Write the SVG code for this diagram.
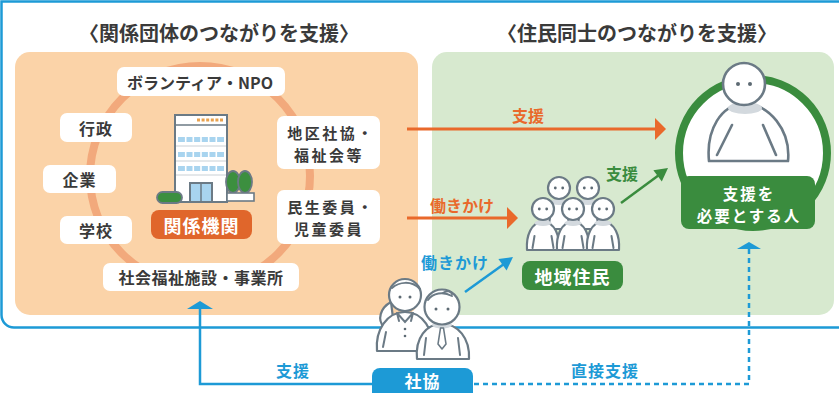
<svg xmlns="http://www.w3.org/2000/svg" width="839" height="393" viewBox="0 0 839 393">
  <style>
    text { font-family: "Noto Sans CJK JP", "Noto Sans", sans-serif; text-anchor: middle; dominant-baseline: central; }
    .title { font-size: 20px; font-weight: 700; fill: #3a3a3a; }
    .lbl { font-size: 16px; font-weight: 700; fill: #3a3a3a; letter-spacing: 1px; }
    .lbl2 { font-size: 15px; font-weight: 700; fill: #3a3a3a; letter-spacing: 2.5px; }
    .wbox { fill: #ffffff; }
    .inv { font-size: 17px; font-weight: 700; fill: #ffffff; letter-spacing: 1px; }
    .inv2 { font-size: 15px; font-weight: 700; fill: #ffffff; letter-spacing: 2px; }
    .or { fill: #e9692b; font-size: 16px; font-weight: 700; }
    .gr { fill: #3a8c3e; font-size: 16px; font-weight: 700; }
    .bl { fill: #1d9ad6; font-size: 16px; font-weight: 700; letter-spacing: 1px; }
    .fig { fill: #ffffff; stroke: #6b7a85; stroke-width: 2.2; stroke-linejoin: round; stroke-linecap: round; }
    .ln { fill: none; stroke: #6b7a85; stroke-width: 2; stroke-linecap: round; }
    .eye { fill: #5d6a73; }
    .collar { fill: #d3d9de; }
  </style>
  <defs>
    <g id="person">
      <path class="fig" d="M-16,41 C-17,27 -12,13 0,13 C12,13 17,27 16,41 Z"/>
      <ellipse class="collar" cx="0" cy="14" rx="8.5" ry="3"/>
      <path class="ln" d="M-8.5,27 L-10.5,39 M8.5,27 L10.5,39"/>
      <circle class="fig" cx="0" cy="0" r="11"/>
      <circle class="eye" cx="-3.7" cy="0" r="1.4"/>
      <circle class="eye" cx="3.7" cy="0" r="1.4"/>
    </g>
  </defs>

  <rect width="839" height="393" fill="#ffffff"/>

  <!-- outer frame -->
  <path d="M860,327.5 H14 A12.5,12.5 0 0 1 1.5,315 V1.5 H860" fill="none" stroke="#1d9ad6" stroke-width="2.5"/>

  <!-- panels -->
  <rect id="panel-org" x="15" y="52" width="403" height="263" rx="15" fill="#fbd3a8"/>
  <rect id="panel-res" x="432" y="52" width="402" height="263" rx="15" fill="#d7e9cf"/>

  <text class="title" x="219" y="32">〈関係団体のつながりを支援〉</text>
  <text class="title" x="637" y="32">〈住民同士のつながりを支援〉</text>

  <!-- ring of organisations -->
  <circle cx="200" cy="176" r="110" fill="none" stroke="#f2a97c" stroke-width="8"/>

  <g id="n-npo">
    <rect class="wbox" x="117" y="67" width="168" height="29" rx="7"/>
    <text class="lbl" x="200" y="82" style="letter-spacing:0px">ボランティア・NPO</text>
  </g>
  <g id="n-gyosei">
    <rect class="wbox" x="60" y="113" width="72" height="29" rx="7"/>
    <text class="lbl" x="96" y="128">行政</text>
  </g>
  <g id="n-kigyo">
    <rect class="wbox" x="43" y="165" width="73" height="28" rx="7"/>
    <text class="lbl" x="79.5" y="179">企業</text>
  </g>
  <g id="n-gakko">
    <rect class="wbox" x="60" y="216" width="72" height="28" rx="7"/>
    <text class="lbl" x="96" y="230">学校</text>
  </g>
  <g id="n-shisetsu">
    <rect class="wbox" x="103" y="263" width="196" height="28" rx="7"/>
    <text class="lbl" x="201" y="277" style="letter-spacing:0.5px">社会福祉施設・事業所</text>
  </g>
  <g id="n-chiku">
    <rect class="wbox" x="277" y="116" width="103" height="53" rx="7"/>
    <text class="lbl2"><tspan x="331" y="131.5">地区社協・</tspan><tspan x="329" y="153.5">福祉会等</tspan></text>
  </g>
  <g id="n-minsei">
    <rect class="wbox" x="277" y="190" width="103" height="54" rx="7"/>
    <text class="lbl2"><tspan x="331" y="206">民生委員・</tspan><tspan x="329" y="228">児童委員</tspan></text>
  </g>

  <!-- related agencies: building -->
  <g id="n-kikan">
    <rect x="175" y="115" width="52" height="87" fill="#ffffff" stroke="#6b7a85" stroke-width="2"/>
    <line x1="175" y1="125" x2="227" y2="125" stroke="#6b7a85" stroke-width="1.5"/>
    <line x1="197" y1="120" x2="224" y2="120" stroke="#e9a24e" stroke-width="3" stroke-dasharray="3 1.6"/>
    <g fill="#a8d4ef">
      <rect x="178" y="137" width="46" height="5"/>
      <rect x="178" y="152" width="46" height="5"/>
      <rect x="178" y="166" width="46" height="5"/>
    </g>
    <g stroke="#ffffff" stroke-width="1.6">
      <line x1="185.7" y1="136" x2="185.7" y2="172"/>
      <line x1="193.3" y1="136" x2="193.3" y2="172"/>
      <line x1="201" y1="136" x2="201" y2="172"/>
      <line x1="208.7" y1="136" x2="208.7" y2="172"/>
      <line x1="216.3" y1="136" x2="216.3" y2="172"/>
    </g>
    <g stroke="#c9d0d5" stroke-width="1">
      <line x1="176" y1="146" x2="226" y2="146"/>
      <line x1="176" y1="161" x2="226" y2="161"/>
      <line x1="176" y1="175" x2="226" y2="175"/>
    </g>
    <rect x="190" y="183" width="22" height="19" fill="#a8d4ef" stroke="#6b7a85" stroke-width="2"/>
    <line x1="201" y1="183" x2="201" y2="202" stroke="#6b7a85" stroke-width="1.5"/>
    <!-- trees -->
    <path d="M232,200 V190 M246,200 V190" stroke="#6b7a85" stroke-width="1.8"/>
    <ellipse cx="233" cy="182" rx="7" ry="11" fill="#3c8f3f" stroke="#6b7a85" stroke-width="1.8"/>
    <ellipse cx="245" cy="182" rx="7" ry="11" fill="#3c8f3f" stroke="#6b7a85" stroke-width="1.8"/>
    <rect x="227" y="193" width="27" height="8" fill="#ffffff" stroke="#6b7a85" stroke-width="1.6"/>
    <!-- bush -->
    <rect x="157" y="192" width="25" height="11" rx="5.5" fill="#3c8f3f" stroke="#6b7a85" stroke-width="1.8"/>
    <rect x="151" y="210" width="101" height="29" rx="8" fill="#e0662b"/>
    <text class="inv" x="201.5" y="224.5" style="font-size:18px">関係機関</text>
  </g>

  <!-- residents -->
  <g id="n-jumin">
    <use href="#person" x="559" y="188"/>
    <use href="#person" x="588" y="188"/>
    <use href="#person" x="543" y="209"/>
    <use href="#person" x="573" y="209"/>
    <use href="#person" x="603" y="209"/>
    <rect x="522" y="261" width="101" height="29" rx="8" fill="#3a8c3e"/>
    <text class="inv" x="572.5" y="275.5" style="font-size:18px">地域住民</text>
  </g>

  <!-- person needing support -->
  <g id="n-target">
    <circle cx="753" cy="153" r="74" fill="#ffffff" stroke="#3a8c3e" stroke-width="8"/>
    <path class="fig" d="M709,161 C706,130 721,104 745,104 C769,104 791,130 788,161 Z" style="stroke-width:2.6"/>
    <ellipse class="collar" cx="745" cy="108" rx="17" ry="6"/>
    <path class="ln" d="M732,125 L717,155 M763,125 L776,155" style="stroke-width:2.6"/>
    <circle class="fig" cx="744" cy="84" r="21" style="stroke-width:2.6"/>
    <circle class="eye" cx="738" cy="84" r="2"/>
    <circle class="eye" cx="750" cy="84" r="2"/>
    <rect x="681" y="176" width="134" height="53" rx="8" fill="#3a8c3e"/>
    <text class="inv2" style="font-size:15.5px"><tspan x="749" y="192.5">支援を</tspan><tspan x="749" y="215">必要とする人</tspan></text>
  </g>

  <!-- council staff -->
  <g id="n-shakyo">
    <!-- woman -->
    <path class="fig" d="M391,302 C380,308 377,320 384,327 L393,318 Z"/>
    <path class="fig" d="M377,351 C375,330 387,312 405,312 C423,312 434,330 433,351 Z"/>
    <path class="ln" d="M397,313 L405,322 L413,313 M397,313 L399,321 M413,313 L411,321"/>
    <circle class="eye" cx="405" cy="329" r="1.3"/>
    <circle class="eye" cx="405" cy="336" r="1.3"/>
    <path class="ln" d="M386,332 L383,347"/>
    <circle class="fig" cx="405" cy="295" r="16"/>
    <path class="ln" d="M392,288 C399,282 411,280 420,289"/>
    <circle class="eye" cx="400" cy="297" r="1.5"/>
    <circle class="eye" cx="410" cy="297" r="1.5"/>
    <!-- man -->
    <path class="fig" d="M417,359 C415,338 426,324 442,324 C458,324 470,338 469,359 Z"/>
    <ellipse class="collar" cx="442" cy="325" rx="10" ry="3.5"/>
    <path class="fig" d="M440.5,328 L443.5,328 L446,344 L442,349 L438,344 Z" style="stroke-width:1.6"/>
    <path class="ln" d="M426,338 L424,355 M458,338 L460,355"/>
    <circle class="fig" cx="442" cy="307" r="17.5"/>
    <path class="ln" d="M428,300 C433,293 443,291 452,296 M443,293 C447,290 451,291 452,294"/>
    <circle class="eye" cx="436" cy="309" r="1.5"/>
    <circle class="eye" cx="448" cy="309" r="1.5"/>
    <rect x="372" y="368" width="101" height="35" rx="8" fill="#1d9ad6"/>
    <text class="inv" x="422.5" y="380.5" style="font-size:17px">社協</text>
  </g>

  <!-- connectors -->
  <g id="connectors">
    <line x1="407" y1="129" x2="657" y2="129" stroke="#e9692b" stroke-width="3"/>
    <polygon points="655,118 666,129 655,140" fill="#e9692b"/>
    <text class="or" x="528" y="115">支援</text>

    <line x1="407" y1="218" x2="509" y2="218" stroke="#e9692b" stroke-width="3"/>
    <polygon points="507,207 518,218 507,229" fill="#e9692b"/>
    <text class="or" x="462" y="205">働きかけ</text>

    <line x1="621" y1="203" x2="659" y2="175" stroke="#3a8c3e" stroke-width="2.5"/>
    <polygon points="668,168 661.8,181.4 653.4,170.2" fill="#3a8c3e"/>
    <text class="gr" x="622" y="173">支援</text>

    <line x1="465" y1="292" x2="504" y2="264" stroke="#1d9ad6" stroke-width="2.5"/>
    <polygon points="513,257 506.6,270.4 498.4,259" fill="#1d9ad6"/>
    <text class="bl" x="455" y="262">働きかけ</text>

    <polyline points="372,384 200,384 200,307" fill="none" stroke="#1d9ad6" stroke-width="2.5"/>
    <polygon points="187,309 200,301 213,309" fill="#1d9ad6"/>
    <text class="bl" x="293" y="370">支援</text>

    <polyline points="474,384 749,384 749,249" fill="none" stroke="#1d9ad6" stroke-width="2.5" stroke-dasharray="5 4"/>
    <polygon points="737,249 749,242 761,249" fill="#1d9ad6"/>
    <text class="bl" x="605" y="370">直接支援</text>
  </g>
</svg>
